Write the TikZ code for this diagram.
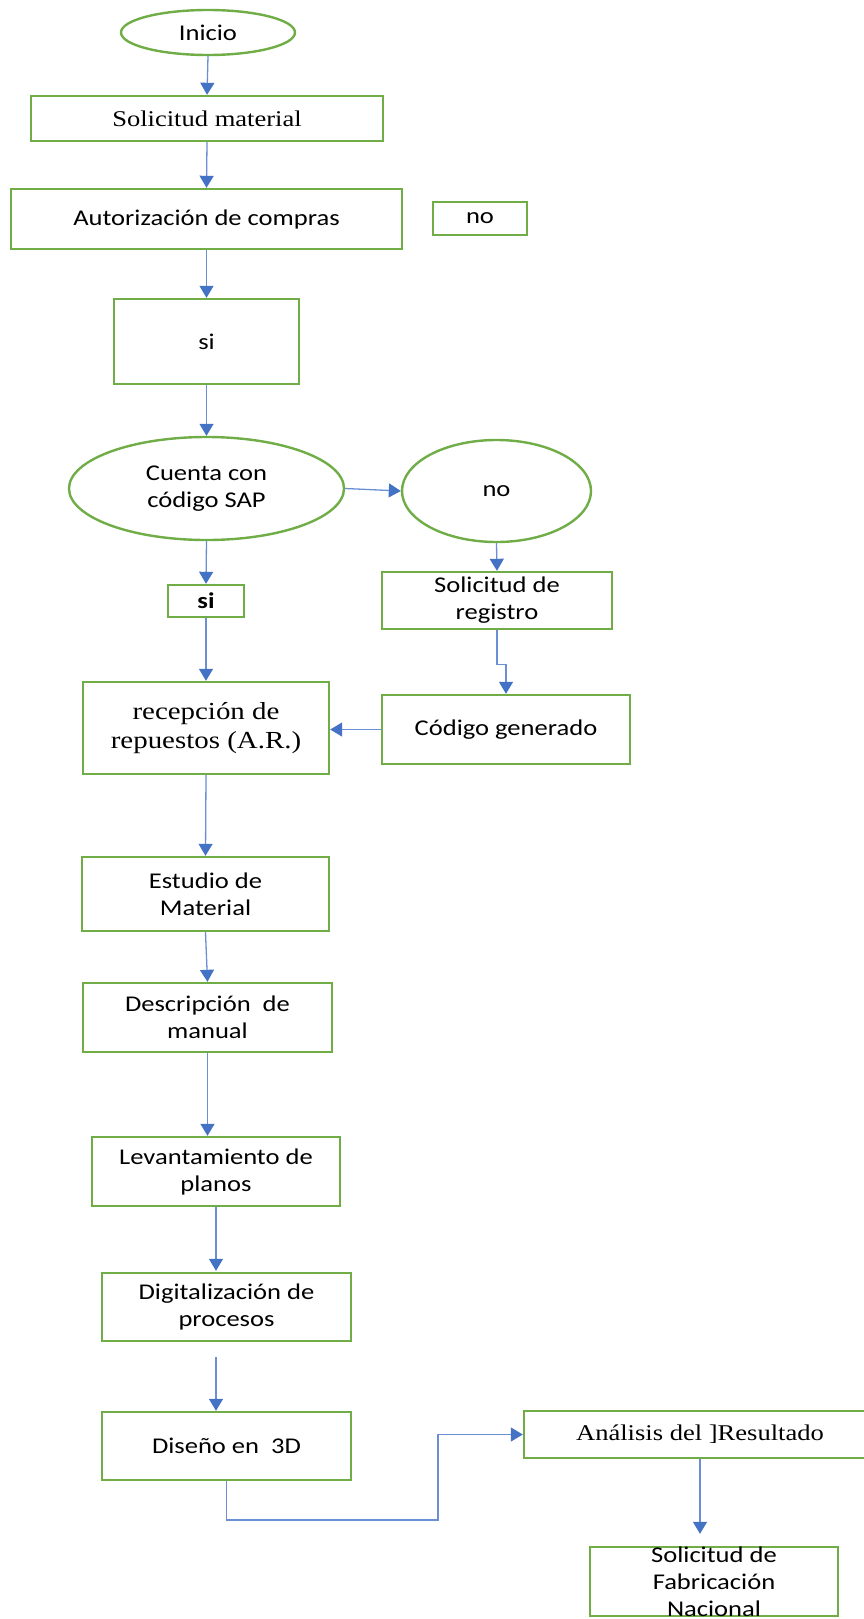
\documentclass[tikz,border=0pt]{standalone}
\usepackage{fontspec}
\setmainfont{Carlito}[FakeStretch=1.18]
\newfontfamily\seriffont{Liberation Serif}[FakeStretch=1.18]
\usetikzlibrary{arrows.meta,shapes.geometric,calc}
\definecolor{boxgreen}{HTML}{70AD47}
\definecolor{arrowblue}{HTML}{4472C4}
\definecolor{lineblue}{HTML}{6A8FD4}
\tikzset{
  box/.style={draw=boxgreen, line width=2.4pt, rectangle, inner sep=0pt, align=center,
    font=\fontsize{22.5}{27}\selectfont},
  oval/.style={box, ellipse},
  plain/.style={inner sep=0pt, align=center, font=\fontsize{22.5}{27}\selectfont},
  flow/.style={draw=lineblue, line width=1.3pt, -{Triangle[width=14pt,length=12pt,color=arrowblue]}},
}
\begin{document}
\begin{tikzpicture}[x=1pt,y=-1pt]
\clip (0,0) rectangle (864,1619);
% nodes
\node[oval, minimum width=174pt, minimum height=45pt] (inicio) at (208,32.5) {Inicio};
\node[box, minimum width=352pt, minimum height=45pt, font=\seriffont\fontsize{22.5}{27}\selectfont] (solmat) at (207,118.5) {Solicitud material};
\node[box, minimum width=391pt, minimum height=60pt] (autoriz) at (206.5,219) {Autorización de compras};
\node[box, minimum width=94pt, minimum height=33pt] (noa) at (480,218.5) {no};
\node[box, minimum width=185pt, minimum height=85pt] (sia) at (206.5,341.5) {si};
\node[oval, minimum width=275pt, minimum height=103pt] (cuenta) at (206.5,488.5) {Cuenta con\\código SAP};
\node[oval, minimum width=189pt, minimum height=102pt] (nob) at (496.5,491) {no};
\node[box, minimum width=230pt, minimum height=57pt] (solreg) at (497,600.5) {Solicitud de\\registro};
\node[box, minimum width=76pt, minimum height=32pt, font=\bfseries\fontsize{22.5}{27}\selectfont] (sib) at (206,601) {si};
\node[box, minimum width=246pt, minimum height=92pt, font=\seriffont\fontsize{24.5}{29}\selectfont] (recep) at (206,728) {recepción de\\repuestos (A.R.)};
\node[box, minimum width=248pt, minimum height=69pt] (codigo) at (506,729.5) {Código generado};
\node[box, minimum width=247pt, minimum height=74pt] (estudio) at (205.5,894) {Estudio de\\Material};
\node[box, minimum width=249pt, minimum height=69pt] (descr) at (207.5,1017.5) {Descripción\ \ de\\manual};
\node[box, minimum width=248pt, minimum height=69pt] (levant) at (216,1171.5) {Levantamiento de\\planos};
\node[box, minimum width=249pt, minimum height=68pt] (digit) at (226.5,1307) {Digitalización de\\procesos};
\node[box, minimum width=249pt, minimum height=68pt] (diseno) at (226.5,1446) {Diseño en\ \ 3D};
\node[box, minimum width=352pt, minimum height=47pt, font=\seriffont\fontsize{22.5}{27}\selectfont] (analisis) at (700,1434.5) {Análisis del ]Resultado};
\node[box, minimum width=248pt, minimum height=69pt] (solfab) at (714,1581.5) {};
\node[plain] (solfabtext) at (714,1582) {Solicitud de\\Fabricación\\Nacional};
\coordinate (bend) at (438,1520);
% connectors
\draw[flow] (inicio.south) -- (solmat.north);
\draw[flow] (solmat.south) -- (autoriz.north);
\draw[flow] (autoriz.south) -- (sia.north);
\draw[flow] (sia.south) -- (cuenta.north);
\draw[flow] (cuenta.east) -- (nob.west);
\draw[flow] (nob.south) -- (solreg.north);
\draw[flow] (cuenta.south) -- (sib.north);
\draw[flow] (sib.south) -- (recep.north);
\draw[flow] (solreg.south) -- ++(0,34) -| (codigo.north);
\draw[flow] (codigo.west) -- (codigo.west -| recep.east);
\draw[flow] (recep.south) -- (estudio.north);
\draw[flow] (estudio.south) -- (descr.north);
\draw[flow] (descr.south) -- (descr.south |- levant.north);
\draw[flow, shorten >=1pt] (levant.south) -- (levant.south |- digit.north);
\draw[flow, shorten <=15pt] ([xshift=-10.5pt]digit.south) -- ([xshift=-10.5pt]diseno.north);
\draw[flow] (diseno.south) |- (bend) |- (analisis.west);
\draw[flow, shorten >=12pt] (analisis.south) -- (analisis.south |- solfab.north);
\end{tikzpicture}
\end{document}
